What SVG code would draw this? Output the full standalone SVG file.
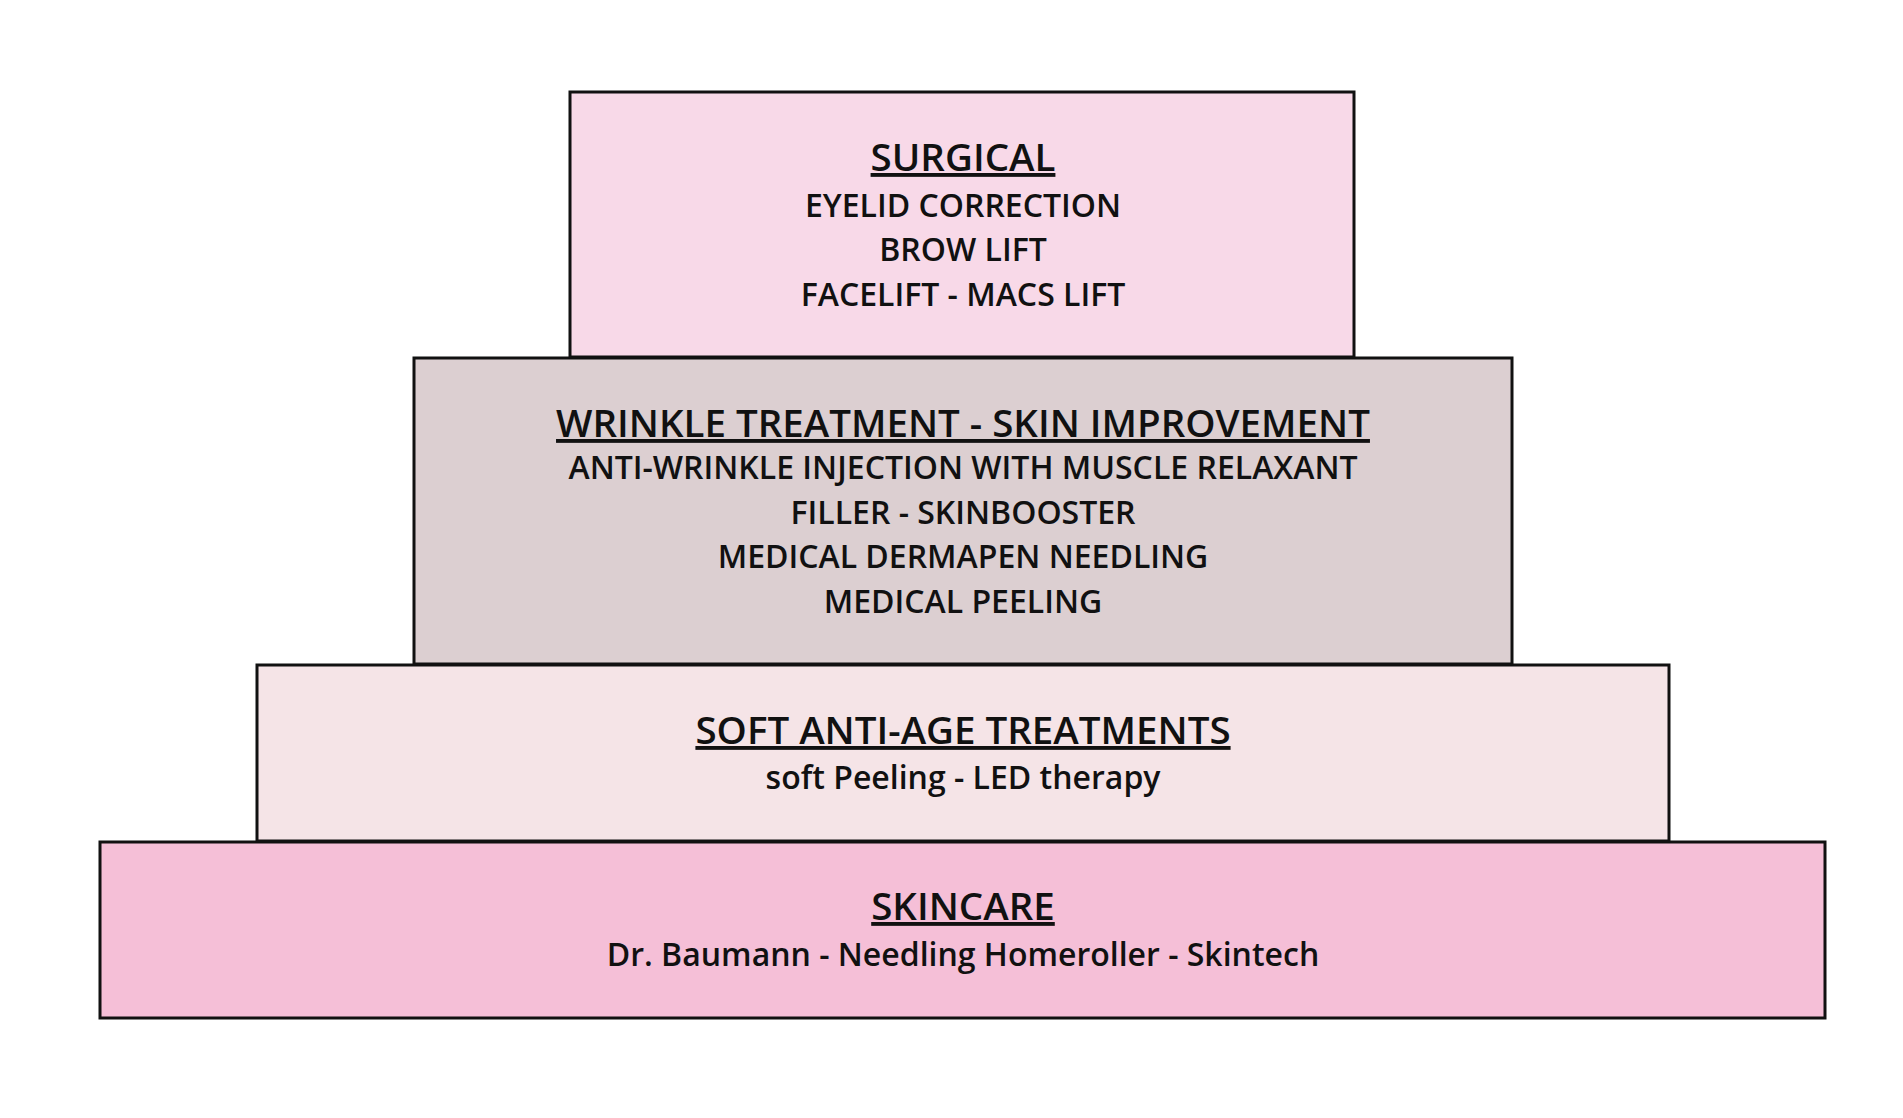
<svg xmlns="http://www.w3.org/2000/svg" width="1903" height="1118" viewBox="0 0 1903 1118">
<style>
rect{stroke:#111;stroke-width:3}
text{font-family:"Open Sans","Liberation Sans",sans-serif;font-weight:600;fill:#111;text-anchor:middle}
.t{font-size:38.5px;text-decoration:underline}
.i{font-size:32px}
</style>
<rect width="1903" height="1118" fill="#fff" style="stroke:none"/>
<g id="skincare"><rect x="100" y="842" width="1725" height="176" fill="#f5bfd7"/>
<text class="t" x="963" y="920">SKINCARE</text>
<text class="i" x="963" y="966">Dr. Baumann - Needling Homeroller - Skintech</text></g>
<g id="soft"><rect x="257" y="665" width="1412" height="176" fill="#f5e4e7"/>
<text class="t" x="963" y="744">SOFT ANTI-AGE TREATMENTS</text>
<text class="i" x="963" y="789">soft Peeling - LED therapy</text></g>
<g id="wrinkle"><rect x="414" y="358" width="1098" height="306" fill="#dccfd1"/>
<text class="t" x="963" y="437">WRINKLE TREATMENT - SKIN IMPROVEMENT</text>
<text class="i" x="963" y="479">ANTI-WRINKLE INJECTION WITH MUSCLE RELAXANT</text>
<text class="i" x="963" y="524">FILLER - SKINBOOSTER</text>
<text class="i" x="963" y="568">MEDICAL DERMAPEN NEEDLING</text>
<text class="i" x="963" y="613">MEDICAL PEELING</text></g>
<g id="surgical"><rect x="570" y="92" width="784" height="265" fill="#f8d9e8"/>
<text class="t" x="963" y="171">SURGICAL</text>
<text class="i" x="963" y="217">EYELID CORRECTION</text>
<text class="i" x="963" y="261">BROW LIFT</text>
<text class="i" x="963" y="306">FACELIFT - MACS LIFT</text></g>
<g id="connectors"/>
</svg>
